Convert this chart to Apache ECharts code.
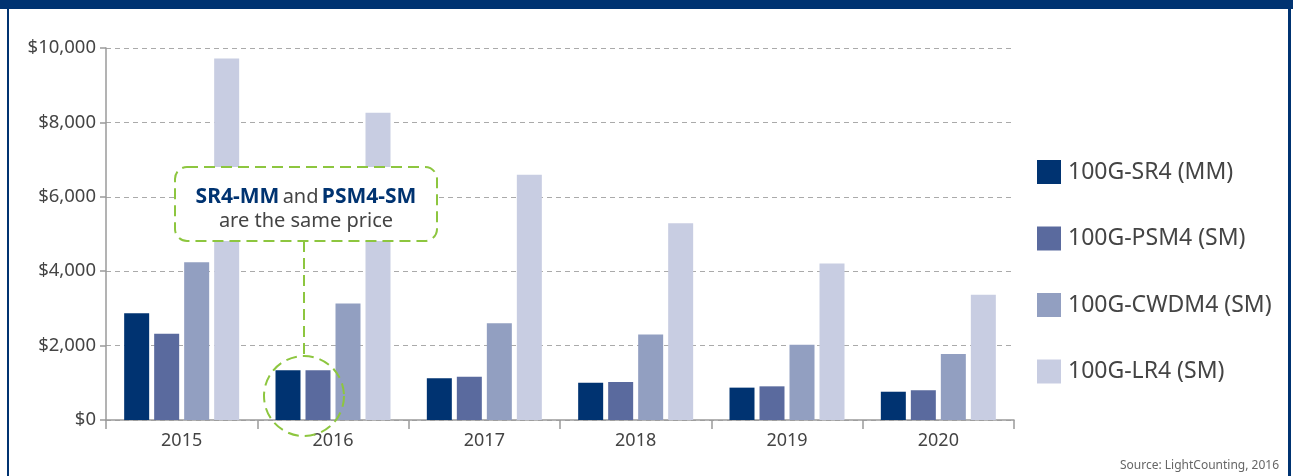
<!DOCTYPE html>
<html>
<head>
<meta charset="utf-8">
<script src="https://cdn.jsdelivr.net/npm/echarts@6/dist/echarts.min.js"></script>
<style>
  html, body { margin: 0; padding: 0; background: #fff; }
  #chart { width: 1293px; height: 476px; }
</style>
</head>
<body>
<div id="chart"></div>
<script>
  // values (US$ per module)
  const years = ['2015', '2016', '2017', '2018', '2019', '2020'];
  const sr4 = [2870, 1340, 1120, 1000, 870, 760];
  const psm4 = [2320, 1340, 1165, 1020, 905, 800];
  const cwdm4 = [4240, 3130, 2600, 2300, 2020, 1775];
  const lr4 = [9720, 8260, 6590, 5290, 4210, 3370];
  const seriesNames = ['100G-SR4 (MM)', '100G-PSM4 (SM)', '100G-CWDM4 (SM)', '100G-LR4 (SM)'];
  const colors = ['#003371', '#5a6a9e', '#929fc1', '#c8cde2'];

  const font = 'Noto Sans';
  const navy = '#003371';
  const green = '#8dc63f';

  let myChart = echarts.init(document.getElementById('chart'));

  let option = {
    animation: false,
    color: colors,
    textStyle: { fontFamily: font },
    grid: { left: 106, right: 279, top: 48, bottom: 56 },
    legend: {
      orient: 'vertical',
      left: 1032,
      top: 155,
      icon: 'rect',
      itemWidth: 24,
      itemHeight: 24,
      itemGap: 42.5,
      textStyle: { fontSize: 23, color: '#444', fontFamily: font, lineHeight: 24, padding: [0, 0, 0, 2] },
      data: seriesNames
    },
    xAxis: {
      type: 'category',
      data: years,
      axisLine: { lineStyle: { color: '#9a9a9a', width: 1.5 } },
      axisTick: { show: true, length: 9, lineStyle: { color: '#9a9a9a', width: 1.5 } },
      axisLabel: { fontSize: 18, color: '#444', margin: 12, fontFamily: font }
    },
    yAxis: {
      type: 'value',
      min: 0,
      max: 10000,
      interval: 2000,
      axisLine: { show: true, lineStyle: { color: '#9a9a9a', width: 1.5 } },
      axisTick: { show: true, length: 6, lineStyle: { color: '#9a9a9a', width: 1.5 } },
      axisLabel: {
        fontSize: 18.5, color: '#444', margin: 10, fontFamily: font,
        formatter: v => '$' + v.toLocaleString('en-US')
      },
      splitLine: { lineStyle: { color: '#aaaaaa', type: [5, 4], width: 1 } }
    },
    series: [
      { name: seriesNames[0], type: 'bar', data: sr4, barWidth: 25, barGap: '20%' },
      { name: seriesNames[1], type: 'bar', data: psm4, barWidth: 25, barGap: '20%' },
      { name: seriesNames[2], type: 'bar', data: cwdm4, barWidth: 25, barGap: '20%' },
      { name: seriesNames[3], type: 'bar', data: lr4, barWidth: 25, barGap: '20%' }
    ],
    graphic: [
      // frame round the figure
      { type: 'rect', shape: { x: 0, y: 0, width: 1293, height: 9 }, style: { fill: navy }, z: 100 },
      { type: 'rect', shape: { x: 7, y: 0, width: 2, height: 476 }, style: { fill: navy }, z: 100 },
      { type: 'rect', shape: { x: 1288, y: 0, width: 3, height: 476 }, style: { fill: navy }, z: 100 },
      // callout
      {
        type: 'rect', z: 50,
        shape: { x: 175, y: 167, width: 262, height: 74, r: 12 },
        style: { fill: '#fff', stroke: green, lineWidth: 2, lineDash: [11, 6] }
      },
      {
        type: 'line', z: 50,
        shape: { x1: 304, y1: 241, x2: 304, y2: 356 },
        style: { stroke: green, lineWidth: 2, lineDash: [11, 6] }
      },
      {
        type: 'circle', z: 50,
        shape: { cx: 304, cy: 396, r: 40 },
        style: { fill: null, stroke: green, lineWidth: 2, lineDash: [11, 6] }
      },
      {
        type: 'text', z: 51, x: 306, y: 197,
        style: {
          text: '{b|SR4-MM} {n|and} {b|PSM4-SM}',
          align: 'center', verticalAlign: 'middle',
          rich: {
            b: { fontSize: 21, fontWeight: 'bold', fill: navy, fontFamily: font },
            n: { fontSize: 20, fill: '#444', fontFamily: font }
          }
        }
      },
      {
        type: 'text', z: 51, x: 306, y: 221,
        style: { text: 'are the same price', fontSize: 20, fill: '#444', fontFamily: font, align: 'center', verticalAlign: 'middle' }
      },
      {
        type: 'text', right: 14, top: 460,
        style: { text: 'Source: LightCounting, 2016', fontSize: 12, fill: '#666', fontFamily: font }
      }
    ]
  };

  myChart.setOption(option);
</script>
</body>
</html>
